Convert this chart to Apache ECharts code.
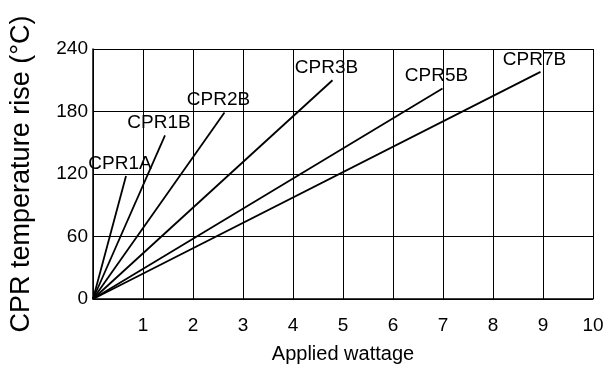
<!DOCTYPE html>
<html>
<head>
<meta charset="utf-8">
<script src="https://cdn.jsdelivr.net/npm/echarts@6/dist/echarts.min.js"></script>
<style>
  html, body { margin: 0; padding: 0; background: #fff; }
  #chart { width: 609px; height: 369px; }
</style>
</head>
<body>
<div id="chart"></div>
<script>
// resistor names and where each straight line ends (wattage, temperature rise)
var names = ['CPR1A', 'CPR1B', 'CPR2B', 'CPR3B', 'CPR5B', 'CPR7B'];
var endWatts = [0.66, 1.44, 2.63, 4.79, 6.99, 8.95];
var endRise = [118, 157, 179, 210, 202, 218];
var xTicks = [1, 2, 3, 4, 5, 6, 7, 8, 9, 10];
var yTicks = [0, 60, 120, 180, 240];

var chart = echarts.init(document.getElementById('chart'));

var series = names.map(function (n, i) {
    return {
        name: n,
        type: 'line',
        symbol: 'circle',
        symbolSize: 0,
        showSymbol: true,
        lineStyle: { color: '#000', width: 1.8 },
        itemStyle: { color: '#000' },
        data: [
            [0, 0],
            {
                value: [endWatts[i], endRise[i]],
                label: {
                    show: true,
                    position: 'top',
                    distance: 3,
                    offset: [-6, 0],
                    formatter: n,
                    color: '#000',
                    fontSize: 19,
                    fontFamily: 'Liberation Sans'
                }
            }
        ]
    };
});

chart.setOption({
    animation: false,
    grid: { left: 92, right: 16, top: 49, bottom: 70 },
    xAxis: {
        type: 'value',
        min: 0,
        max: 10,
        interval: 1,
        name: 'Applied wattage',
        nameLocation: 'middle',
        nameGap: 45,
        nameTextStyle: { color: '#000', fontSize: 20, fontFamily: 'Liberation Sans' },
        axisLine: { lineStyle: { color: '#000', width: 1.5 } },
        axisTick: { show: false },
        axisLabel: {
            color: '#000',
            fontSize: 19,
            fontFamily: 'Liberation Sans',
            margin: 17,
            formatter: function (v) { return xTicks.indexOf(v) >= 0 ? String(v) : ''; }
        },
        splitLine: { show: true, lineStyle: { color: '#000', width: 1 } }
    },
    yAxis: {
        type: 'value',
        min: 0,
        max: 240,
        interval: 60,
        name: 'CPR temperature rise (°C)',
        nameLocation: 'middle',
        nameGap: 58,
        nameTextStyle: { color: '#000', fontSize: 27, fontFamily: 'Liberation Sans' },
        axisLine: { show: true, lineStyle: { color: '#000', width: 1.5 } },
        axisTick: { show: false },
        axisLabel: {
            color: '#000',
            fontSize: 19,
            fontFamily: 'Liberation Sans',
            margin: 5,
            formatter: function (v) { return yTicks.indexOf(v) >= 0 ? String(v) : ''; }
        },
        splitLine: { show: true, lineStyle: { color: '#000', width: 1 } }
    },
    series: series
});
</script>
</body>
</html>
